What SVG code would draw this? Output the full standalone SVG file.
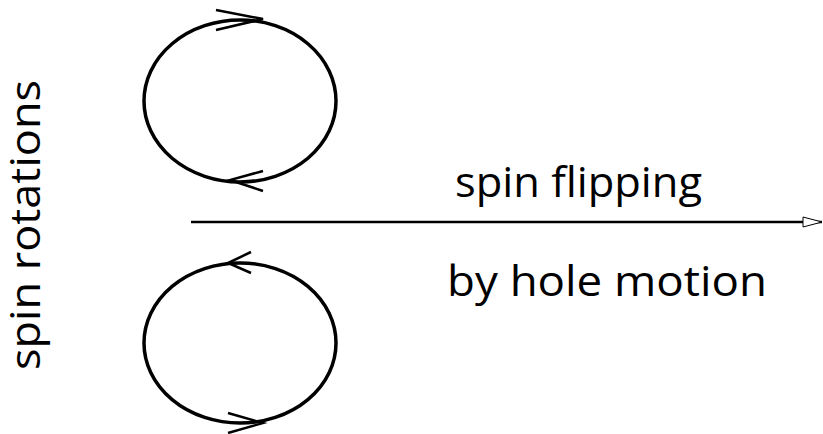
<svg xmlns="http://www.w3.org/2000/svg" width="823" height="434" viewBox="0 0 823 434">
<style>
.loop{fill:none;stroke:#000;stroke-width:3.5}
.head{fill:none;stroke:#000;stroke-width:2.5;stroke-linejoin:miter}
.lbl{font-family:"Open Sans","Liberation Sans",sans-serif;font-size:42px;fill:#000}
</style>
<defs>
<marker id="open" markerWidth="22" markerHeight="12" refX="20" refY="6" orient="auto" markerUnits="userSpaceOnUse">
<path d="M1,1 L20,6 L1,11 Z" fill="#fff" stroke="#000" stroke-width="1"/>
</marker>
</defs>
<rect width="823" height="434" fill="#fff"/>
<g id="loop-top">
<ellipse class="loop" cx="240" cy="101" rx="96" ry="81"/>
<path class="head" d="M216,10 L263,19 L216,30"/>
<path class="head" d="M263,171 L230,180 L263,191"/>
</g>
<g id="loop-bottom">
<ellipse class="loop" cx="240" cy="343" rx="96" ry="80"/>
<path class="head" d="M251,252 L228,263 L251,273"/>
<path class="head" d="M228,413 L263,423 L228,433"/>
</g>
<g id="connectors">
<line x1="191" y1="222" x2="822" y2="222" stroke="#000" stroke-width="2.5" marker-end="url(#open)"/>
</g>
<g id="labels">
<text class="lbl" x="455" y="197" textLength="247" lengthAdjust="spacingAndGlyphs">spin flipping</text>
<text class="lbl" x="447" y="296" textLength="320" lengthAdjust="spacingAndGlyphs">by hole motion</text>
<text class="lbl" x="40" y="225" text-anchor="middle" transform="rotate(-90 40 225)" font-size="40" textLength="290" lengthAdjust="spacingAndGlyphs">spin rotations</text>
</g>
</svg>
